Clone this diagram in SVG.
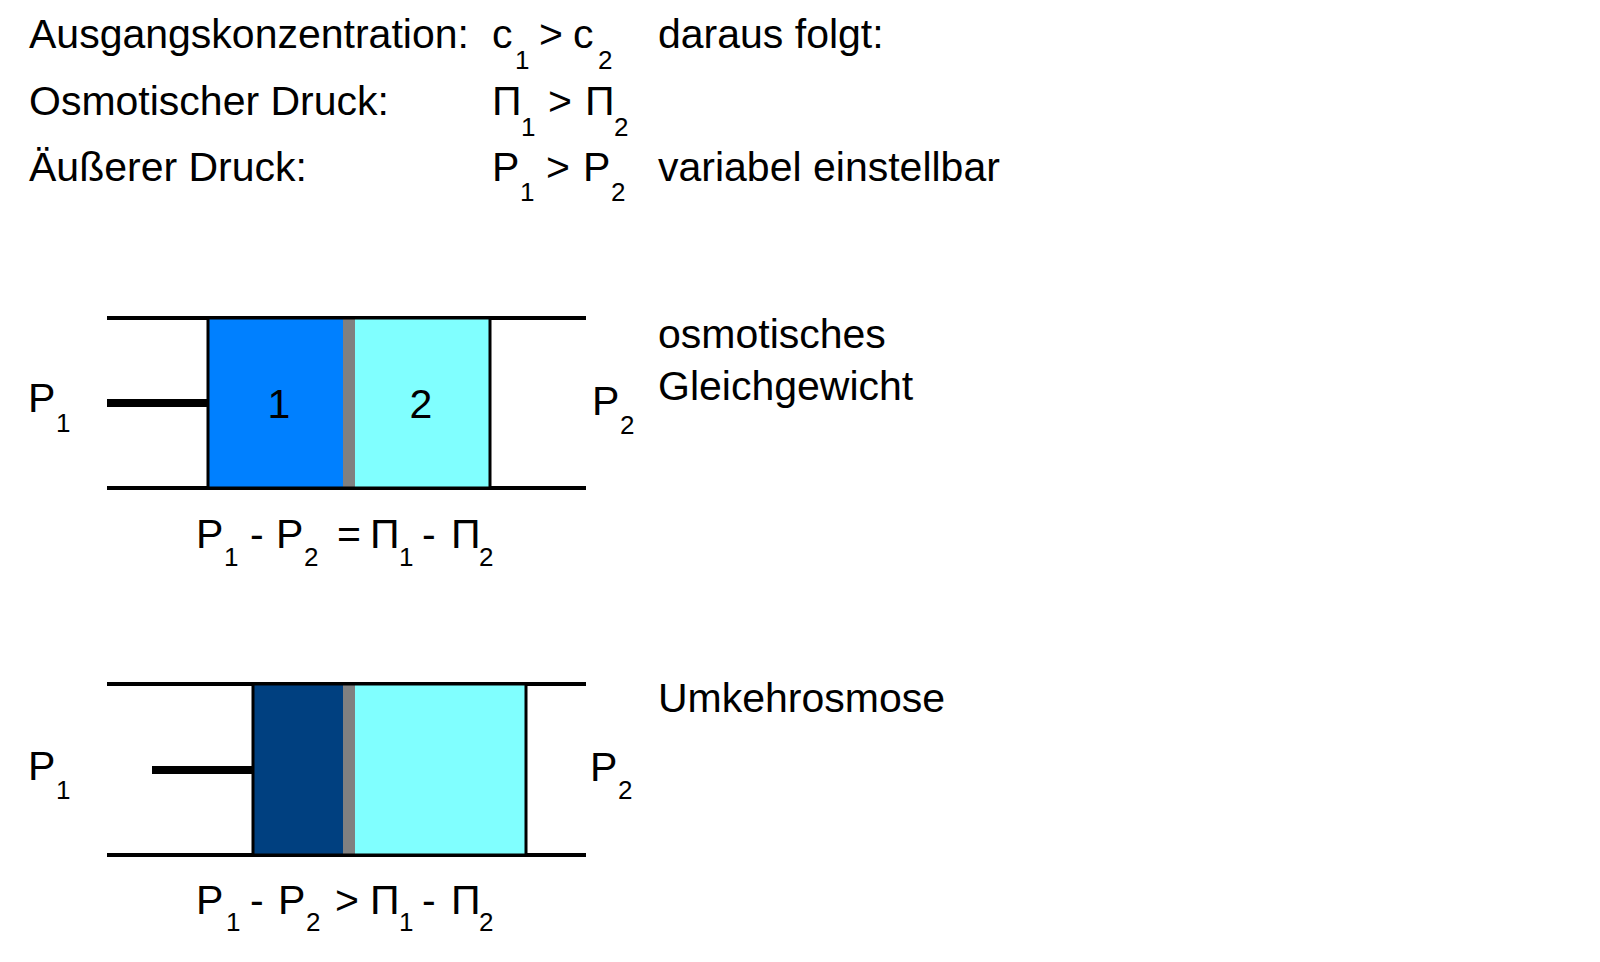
<svg xmlns="http://www.w3.org/2000/svg" width="1600" height="962" viewBox="0 0 1600 962">
<style>
text{font-family:"Liberation Sans",Arial,sans-serif;fill:#000}
.t{font-size:41px}
.s{font-size:26px}
.wall{stroke:#000;stroke-width:4}
.rod{stroke:#000;stroke-width:8}
.box{stroke:#000;stroke-width:3}
</style>
<rect width="1600" height="962" fill="#fff"/>
<g id="header">
<text class="t" x="29" y="48">Ausgangskonzentration:</text>
<text class="t" x="492" y="48">c</text><text class="s" x="515" y="69">1</text>
<text class="t" x="539" y="48">&gt;</text>
<text class="t" x="573" y="48">c</text><text class="s" x="598" y="69">2</text>
<text class="t" x="658" y="48">daraus folgt:</text>
<text class="t" x="29" y="115">Osmotischer Druck:</text>
<text class="t" x="492" y="115">Π</text><text class="s" x="521" y="136">1</text>
<text class="t" x="548" y="115">&gt;</text>
<text class="t" x="585" y="115">Π</text><text class="s" x="614" y="136">2</text>
<text class="t" x="29" y="181">Äußerer Druck:</text>
<text class="t" x="492" y="181">P</text><text class="s" x="520" y="201">1</text>
<text class="t" x="546" y="181">&gt;</text>
<text class="t" x="583" y="181">P</text><text class="s" x="611" y="201">2</text>
<text class="t" x="658" y="181">variabel einstellbar</text>
</g>
<g id="diagram1">
<line class="wall" x1="107" y1="318" x2="586" y2="318"/>
<line class="wall" x1="107" y1="488" x2="586" y2="488"/>
<line class="rod" x1="107" y1="403" x2="208" y2="403"/>
<rect x="208" y="318" width="135" height="170" fill="#0080FF"/>
<rect x="343" y="318" width="12" height="170" fill="#808080"/>
<rect x="355" y="318" width="135" height="170" fill="#80FFFF"/>
<rect class="box" x="208" y="318" width="282" height="170" fill="none"/>
<text class="t" x="279" y="418" text-anchor="middle">1</text>
<text class="t" x="421" y="418" text-anchor="middle">2</text>
<text class="t" x="28" y="412">P</text><text class="s" x="56" y="432">1</text>
<text class="t" x="592" y="415">P</text><text class="s" x="620" y="434">2</text>
<text class="t" x="658" y="348">osmotisches</text>
<text class="t" x="658" y="400">Gleichgewicht</text>
<text class="t" x="196" y="548">P</text><text class="s" x="224" y="566">1</text>
<text class="t" x="250" y="548">-</text>
<text class="t" x="276" y="548">P</text><text class="s" x="304" y="566">2</text>
<text class="t" x="337" y="548">=</text>
<text class="t" x="370" y="548">Π</text><text class="s" x="399" y="566">1</text>
<text class="t" x="422" y="548">-</text>
<text class="t" x="451" y="548">Π</text><text class="s" x="479" y="566">2</text>
</g>
<g id="diagram2">
<line class="wall" x1="107" y1="684" x2="586" y2="684"/>
<line class="wall" x1="107" y1="855" x2="586" y2="855"/>
<line class="rod" x1="152" y1="770" x2="253" y2="770"/>
<rect x="253" y="684" width="90" height="171" fill="#004080"/>
<rect x="343" y="684" width="12" height="171" fill="#808080"/>
<rect x="355" y="684" width="171" height="171" fill="#80FFFF"/>
<rect class="box" x="253" y="684" width="273" height="171" fill="none"/>
<text class="t" x="28" y="780">P</text><text class="s" x="56" y="799">1</text>
<text class="t" x="590" y="781">P</text><text class="s" x="618" y="799">2</text>
<text class="t" x="658" y="712">Umkehrosmose</text>
<text class="t" x="196" y="914">P</text><text class="s" x="226" y="931">1</text>
<text class="t" x="250" y="914">-</text>
<text class="t" x="278" y="914">P</text><text class="s" x="306" y="931">2</text>
<text class="t" x="335" y="914">&gt;</text>
<text class="t" x="370" y="914">Π</text><text class="s" x="399" y="931">1</text>
<text class="t" x="422" y="914">-</text>
<text class="t" x="451" y="914">Π</text><text class="s" x="479" y="931">2</text>
</g>
<g id="connectors"/>
</svg>
